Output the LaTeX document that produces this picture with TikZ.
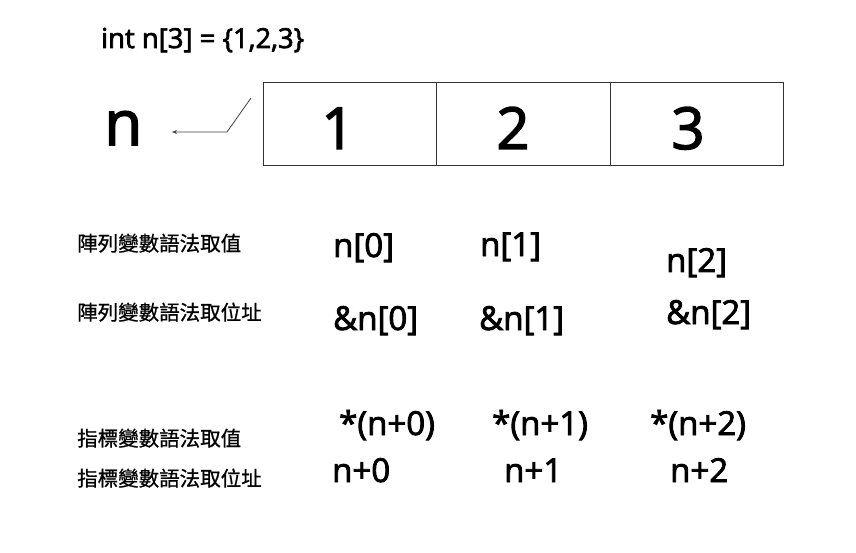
\documentclass[tikz,border=0pt]{standalone}
\usepackage{fontspec}
\setmainfont[RawFeature={embolden=2.5}]{Open Sans}
\newfontfamily\cjkfont[RawFeature={embolden=0.8}]{Noto Sans CJK TC}
\usetikzlibrary{arrows.meta}
\begin{document}
\begin{tikzpicture}[x=1pt,y=-1pt,
  cell/.style={draw=black!80,line width=0.9pt,minimum width=173.3pt,minimum height=83pt,inner sep=0pt,anchor=north west},
  txt/.style={anchor=base west,inner sep=0pt},
  lbl/.style={txt,font=\cjkfont\fontsize{20.5}{24}\selectfont},
  expr/.style={txt,font=\fontsize{33}{36}\selectfont},
  digit/.style={anchor=base,inner sep=0pt,font=\fontsize{58}{60}\selectfont},
  ptr/.style={draw=black!75,line width=0.8pt,-{Stealth[length=5pt,width=4pt]}}]
\useasboundingbox (0,0) rectangle (856,553);
\node[txt,font=\fontsize{27.5}{30}\selectfont] (decl) at (101,48) {int n[3] = \{1,2,3\}};
\node[txt,font=\fontsize{62}{64}\selectfont] (n) at (104,145) {n};
\node[cell] (c1) at (263,82) {};
\node[cell] (c2) at (436.3,82) {};
\node[cell] (c3) at (609.6,82) {};
\node[digit] (d1) at (338,149) {1};
\node[digit] (d2) at (513,149) {2};
\node[digit] (d3) at (688,149) {3};
\coordinate (p1) at (251,98);
\coordinate (p2) at (227,132);
\coordinate (p3) at (172,132);
\draw[ptr] (p1) -- (p2) -- (p3);
\node[lbl] (l1) at (77,251) {陣列變數語法取值};
\node[lbl] (l2) at (77,320) {陣列變數語法取位址};
\node[lbl] (l3) at (77,446) {指標變數語法取值};
\node[lbl] (l4) at (77,486) {指標變數語法取位址};
\node[expr] (e1) at (333,257) {n[0]};
\node[expr] (e2) at (480,256) {n[1]};
\node[expr] (e3) at (666,272) {n[2]};
\node[expr] (e4) at (333,330) {\&n[0]};
\node[expr] (e5) at (479,330) {\&n[1]};
\node[expr] (e6) at (666,324) {\&n[2]};
\node[expr] (e7) at (339,435) {*(n+0)};
\node[expr] (e8) at (492,435) {*(n+1)};
\node[expr] (e9) at (650,435) {*(n+2)};
\node[expr] (e10) at (332,482) {n+0};
\node[expr] (e11) at (504,482) {n+1};
\node[expr] (e12) at (670,482) {n+2};
\end{tikzpicture}
\end{document}
